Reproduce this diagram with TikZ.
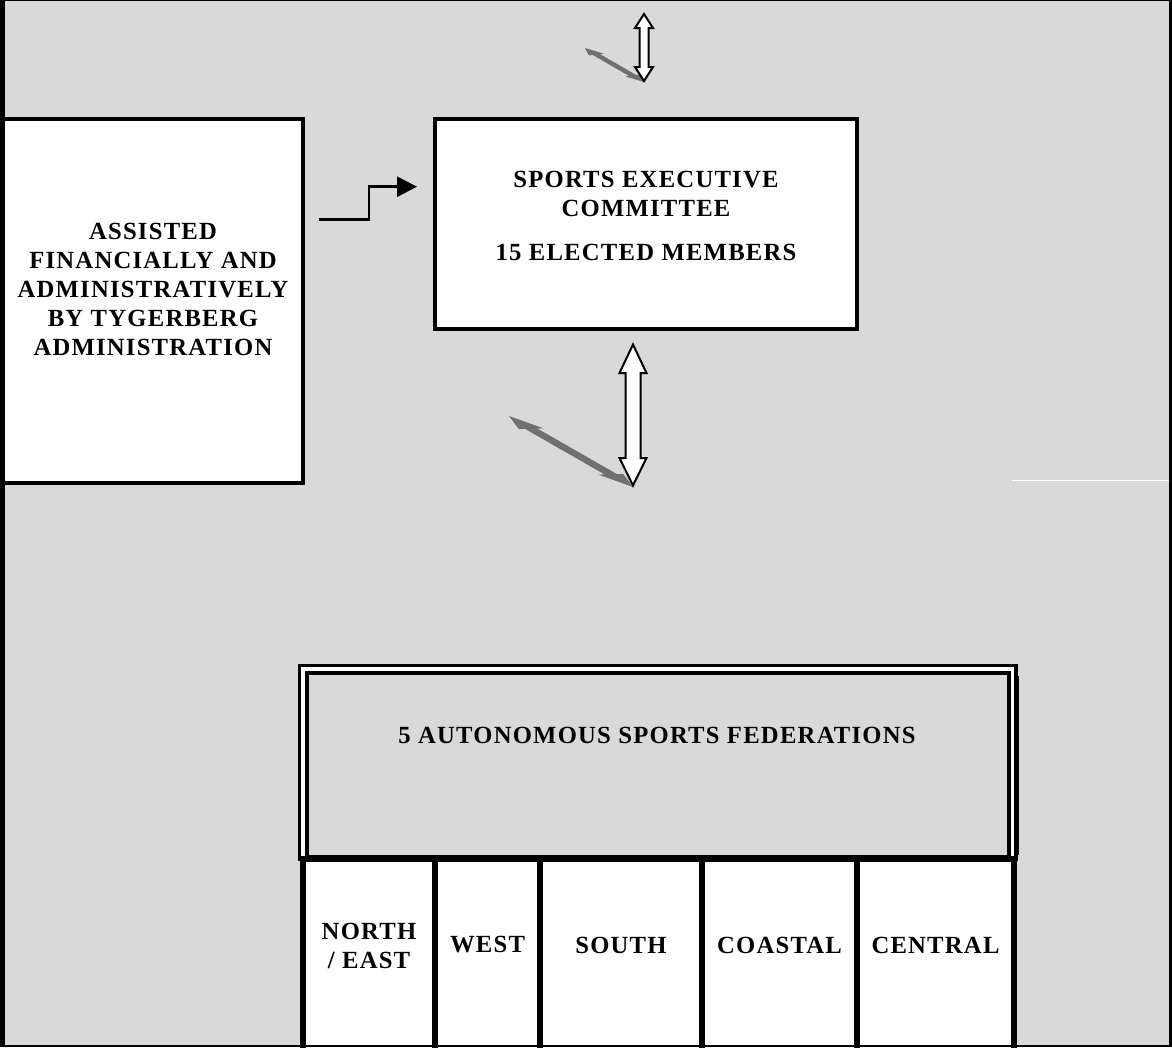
\documentclass[tikz,border=0pt]{standalone}
\usepackage{fontspec}
\setmainfont{Liberation Serif}
\newfontfamily\lblfont[LetterSpace=5]{Liberation Serif}
\usetikzlibrary{arrows.meta}
\definecolor{bg}{RGB}{217,217,217}
\definecolor{shade}{RGB}{112,112,112}
\tikzset{
  lbl/.style={font=\lblfont\bfseries\fontsize{18.5pt}{21.75pt}\selectfont, align=center, inner sep=0pt, text=black},
  box/.style={draw=black, fill=white, line width=3pt},
  cellbox/.style={draw=black, fill=white, line width=4pt},
  dblarrow/.style={draw=black, fill=white, line width=1.5pt, line join=miter},
  shadowshape/.style={fill=shade},
  stepline/.style={draw=black, line width=2pt, -{Triangle[length=15pt,width=15pt]}}
}
\begin{document}
\begin{tikzpicture}[x=0.75pt,y=-0.75pt]
\useasboundingbox (0,0) rectangle (1172,1047);
\clip (0,0) rectangle (1172,1047);
% background
\fill[black] (0,0) rectangle (1172,1047);
\fill[bg] (5,1) rectangle (1169,1045);

% left box
\draw[box] (3,118.5) rectangle (302.5,482.5);
\node[lbl] (assist) at (153,289.5) {ASSISTED\\FINANCIALLY AND\\ADMINISTRATIVELY\\BY TYGERBERG\\ADMINISTRATION};

% committee box
\draw[box] (434.5,118.5) rectangle (856.5,329);
\node[lbl] (sec) at (646,215.5) {SPORTS EXECUTIVE\\COMMITTEE\\[11.25pt]15 ELECTED MEMBERS};

% step arrow
\coordinate (stepstart) at (319,219.7);
\coordinate (stepend) at (417,186.7);
\draw[stepline] (stepstart) -- (369,219.7) |- (stepend);

% top shadow + double arrow
\fill[shadowshape] (585,48) -- (603.7,53.6) -- (600.0,54.1) -- (636.4,75.1) -- (640.2,74.6) -- (644,82)
  -- (625.3,76.4) -- (629.0,75.9) -- (592.6,54.9) -- (588.9,55.4) -- cycle;
\filldraw[dblarrow] (644,14) -- (653,28) -- (648.5,28) -- (648.5,67) -- (653,67) -- (644,81)
  -- (635,67) -- (639.5,67) -- (639.5,28) -- (635,28) -- cycle;

% middle shadow + double arrow
\fill[shadowshape] (509,416) -- (543.7,428.4) -- (537.5,428.6) -- (616.9,474.1) -- (623.1,473.9) -- (633,487)
  -- (598.3,474.6) -- (604.5,474.4) -- (525.1,428.9) -- (518.9,429.1) -- cycle;
\filldraw[dblarrow] (633,344.5) -- (646.5,373) -- (640.5,373) -- (640.5,458) -- (646.5,458) -- (633,485.5)
  -- (619.5,458) -- (625.5,458) -- (625.5,373) -- (619.5,373) -- cycle;

% white line at right
\draw[white, line width=0.75pt] (1012,480.3) -- (1169,480.3);

% federations box (double border)
\fill[black] (1016,676) rectangle (1019,855);
\draw[line width=2.8pt, fill=white] (299.5,665.5) rectangle (1016,859);
\draw[line width=3pt, fill=bg] (307,673) rectangle (1009,857);
\node[lbl] (fed) at (657,735) {5 AUTONOMOUS SPORTS FEDERATIONS};

% region cells
\draw[cellbox] (303,859) rectangle (435,1060);
\draw[cellbox] (435,859) rectangle (540,1060);
\draw[cellbox] (540,859) rectangle (702,1060);
\draw[cellbox] (702,859) rectangle (857,1060);
\draw[cellbox] (857,859) rectangle (1014,1060);
\node[lbl] (ne) at (369,945.5) {NORTH\\/ EAST};
\node[lbl] (west) at (487.5,945) {WEST};
\node[lbl] (south) at (621,945) {SOUTH};
\node[lbl] (coastal) at (779.5,945) {COASTAL};
\node[lbl] (central) at (935.5,945) {CENTRAL};

% frame strips on top
\fill[black] (0,0) rectangle (5,1047);
\fill[black] (0,0) rectangle (1172,1);
\fill[black] (1169,0) rectangle (1172,1047);
\fill[black] (0,1045) rectangle (1172,1047);
\end{tikzpicture}
\end{document}
